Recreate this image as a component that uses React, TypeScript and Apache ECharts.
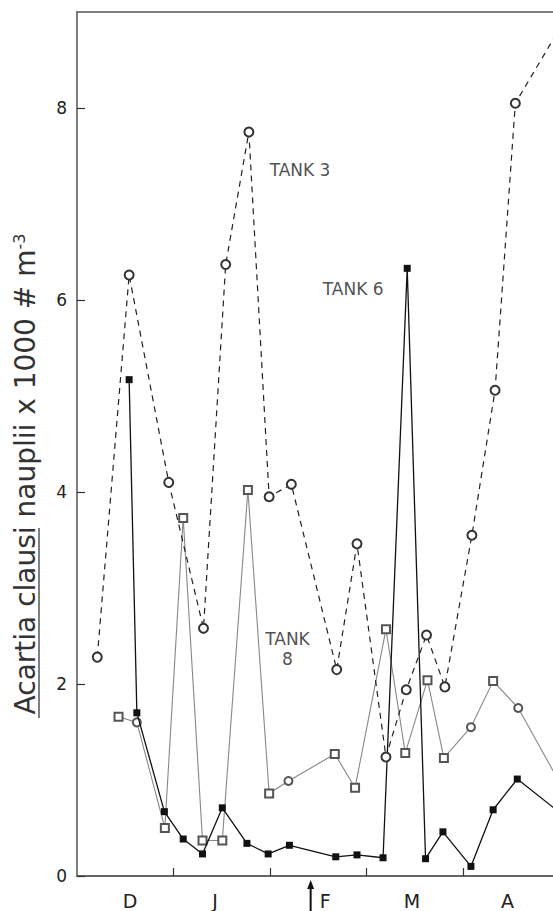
import React, { useEffect, useRef } from 'react';
import * as echarts from 'echarts';

// x values in months since 1 December (D=0..1, J=1..2, F=2..3, M=3..4, A=4..5)
const tank3X = [0.21, 0.54, 0.95, 1.31, 1.54, 1.78, 1.99, 2.22, 2.69, 2.9, 3.2, 3.41, 3.62, 3.81, 4.09, 4.33, 4.54, 5.1];
const tank3Y = [2.28, 6.26, 4.1, 2.58, 6.37, 7.75, 3.95, 4.08, 2.15, 3.46, 1.24, 1.94, 2.51, 1.97, 3.55, 5.06, 8.05, 9.0];

const tank6X = [0.54, 0.62, 0.905, 1.1, 1.3, 1.505, 1.76, 1.98, 2.2, 2.68, 2.9, 3.17, 3.42, 3.61, 3.79, 4.08, 4.31, 4.56, 5.0];
const tank6Y = [5.17, 1.7, 0.67, 0.385, 0.23, 0.71, 0.34, 0.23, 0.32, 0.2, 0.22, 0.19, 6.33, 0.18, 0.46, 0.1, 0.69, 1.01, 0.66];

const tank8X = [0.43, 0.62, 0.91, 1.1, 1.3, 1.505, 1.77, 1.99, 2.19, 2.67, 2.88, 3.2, 3.4, 3.63, 3.8, 4.08, 4.31, 4.57, 5.0];
const tank8Y = [1.66, 1.6, 0.5, 3.73, 0.37, 0.37, 4.02, 0.86, 0.99, 1.27, 0.92, 2.57, 1.28, 2.04, 1.23, 1.55, 2.03, 1.75, 0.97];
const tank8Symbols = ['emptyRect', 'emptyCircle', 'emptyRect', 'emptyRect', 'emptyRect', 'emptyRect', 'emptyRect', 'emptyRect', 'emptyCircle', 'emptyRect', 'emptyRect', 'emptyRect', 'emptyRect', 'emptyRect', 'emptyRect', 'emptyCircle', 'emptyRect', 'emptyCircle', 'emptyRect'];

const yTicks = [0, 2, 4, 6, 8];
const monthTicks = [1, 2, 3, 4];
const monthLabels = ['D', 'J', 'F', 'M', 'A'];
const monthLabelPos = [0.55, 1.43, 2.57, 3.47, 4.46];

const annotationText = ['TANK 3', 'TANK 6', 'TANK\n8'];
const annotationX = [2.31, 2.86, 2.18];
const annotationY = [7.35, 6.11, 2.36];

const arrowX = 2.42;

const FONT = 'DejaVu Sans';

export default function App() {
  const ref = useRef<HTMLDivElement>(null);

  useEffect(() => {
    const chart = echarts.init(ref.current!, null, { renderer: 'svg' });
    const pairs = (xs: number[], ys: number[]) => xs.map((x, i) => [x, ys[i]]);
    const xMin = 0;
    const xMax = 4.93;

    chart.setOption({
      animation: false,
      backgroundColor: '#ffffff',
      grid: { left: 77, right: 0, top: 12, bottom: 35, containLabel: false },
      xAxis: [
        {
          type: 'value',
          min: xMin,
          max: xMax,
          position: 'bottom',
          axisLine: { show: true, onZero: false, lineStyle: { color: '#666', width: 2 } },
          axisTick: { show: true, inside: true, length: 8, customValues: monthTicks, lineStyle: { color: '#333', width: 1.2 } },
          axisLabel: {
            show: true,
            customValues: monthLabelPos,
            margin: 15,
            color: '#222',
            fontFamily: FONT,
            fontSize: 19,
            formatter: (v: number) => {
              let best = 0;
              monthLabelPos.forEach((p, i) => {
                if (Math.abs(p - v) < Math.abs(monthLabelPos[best] - v)) best = i;
              });
              return monthLabels[best];
            },
          },
          splitLine: { show: false },
        },
        {
          type: 'value',
          min: xMin,
          max: xMax,
          position: 'top',
          axisLine: { show: true, onZero: false, lineStyle: { color: '#555', width: 1.5 } },
          axisTick: { show: false },
          axisLabel: { show: false },
          splitLine: { show: false },
        },
      ],
      yAxis: {
        type: 'value',
        min: 0,
        max: 9,
        axisLine: { show: true, onZero: false, lineStyle: { color: '#555', width: 1.5 } },
        axisTick: { show: true, inside: true, length: 8, customValues: yTicks, lineStyle: { color: '#333', width: 1.2 } },
        axisLabel: { show: true, customValues: yTicks, margin: 10, color: '#222', fontFamily: FONT, fontSize: 17 },
        splitLine: { show: false },
      },
      series: [
        {
          name: 'Tank 8',
          type: 'line',
          data: pairs(tank8X, tank8Y).map((d, i) => ({ value: d, symbol: tank8Symbols[i] })),
          symbolSize: 8,
          lineStyle: { color: '#888', width: 1.1 },
          itemStyle: { color: '#555', borderWidth: 1 },
          z: 2,
        },
        {
          name: 'Tank 6',
          type: 'line',
          data: pairs(tank6X, tank6Y),
          symbol: 'rect',
          symbolSize: 7,
          lineStyle: { color: '#111', width: 1.3 },
          itemStyle: { color: '#111' },
          z: 3,
        },
        {
          name: 'Tank 3',
          type: 'line',
          data: pairs(tank3X, tank3Y),
          symbol: 'emptyCircle',
          symbolSize: 9,
          lineStyle: { color: '#222', width: 1.2, type: [6, 5] },
          itemStyle: { color: '#333', borderWidth: 1 },
          z: 4,
        },
        {
          name: 'labels',
          type: 'scatter',
          data: annotationText.map((t, i) => ({ name: t, value: [annotationX[i], annotationY[i]] })),
          symbolSize: 1,
          itemStyle: { color: 'rgba(0,0,0,0)' },
          label: {
            show: true,
            position: 'inside',
            formatter: (p: any) => p.name,
            color: '#222',
            fontFamily: FONT,
            fontSize: 17,
            lineHeight: 20,
            align: 'center',
          },
          z: 5,
        },
      ],
    });

    const ax = chart.convertToPixel({ xAxisIndex: 0 }, arrowX) as number;
    const ay = chart.convertToPixel({ yAxisIndex: 0 }, 0) as number;

    chart.setOption({
      graphic: [
        {
          type: 'text',
          id: 'ytitle',
          x: 25,
          y: 474,
          rotation: Math.PI / 2,
          style: {
            text: '{u|Acartia clausi} nauplii x 1000 # m{s|-3}',
            fill: '#333',
            fontFamily: FONT,
            fontSize: 28,
            align: 'center',
            verticalAlign: 'middle',
            textAlign: 'center',
            textVerticalAlign: 'middle',
            rich: {
              u: { fontFamily: FONT, fontSize: 28, fill: '#333' },
              s: { fontFamily: FONT, fontSize: 16, verticalAlign: 'top', fill: '#333' },
            },
          },
        },
        {
          type: 'line',
          id: 'underline',
          shape: { x1: 39, y1: 528, x2: 39, y2: 718 },
          style: { stroke: '#555', lineWidth: 1.5 },
        },
        {
          type: 'line',
          id: 'arrowShaft',
          shape: { x1: ax, y1: ay + 10, x2: ax, y2: ay + 36 },
          style: { stroke: '#111', lineWidth: 2 },
        },
        {
          type: 'polygon',
          id: 'arrowHead',
          shape: { points: [[ax, ay + 4], [ax - 3.5, ay + 13], [ax + 3.5, ay + 13]] },
          style: { fill: '#111' },
        },
      ],
    });

    return () => chart.dispose();
  }, []);

  return <div ref={ref} style={{ position: 'fixed', left: 0, top: 0, width: 553, height: 911 }} />;
}
